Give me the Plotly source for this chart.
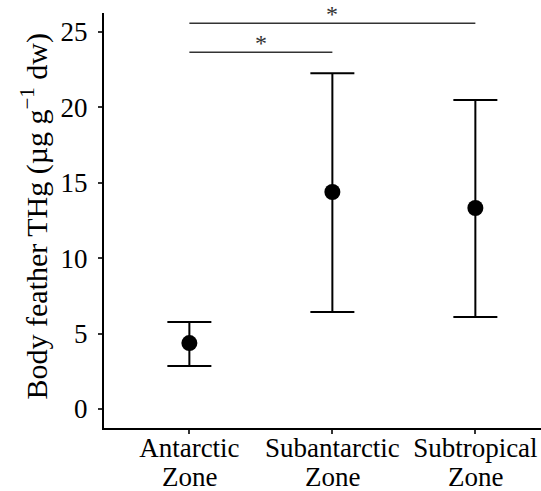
import plotly.graph_objects as go

zone_names = ["Antarctic", "Subantarctic", "Subtropical"]
zone_suffix = ["Zone", "Zone", "Zone"]
means = [4.37, 14.38, 13.32]
upper = [5.77, 22.25, 20.48]
lower = [2.85, 6.43, 6.10]

sig_pairs = [(0, 1), (0, 2)]
sig_y = [23.64, 25.56]
sig_labels = ["*", "*"]

y_ticks = [0, 5, 10, 15, 20, 25]

FONT = "Liberation Serif"
x_pos = list(range(len(zone_names)))

fig = go.Figure()

fig.add_trace(go.Scatter(
    x=x_pos, y=means, mode="markers",
    marker=dict(size=16, color="black"),
    error_y=dict(type="data", symmetric=False,
                 array=[u - m for u, m in zip(upper, means)],
                 arrayminus=[m - l for m, l in zip(means, lower)],
                 thickness=2, width=22, color="black"),
    showlegend=False, cliponaxis=False,
))

for (a, b), yv, lab in zip(sig_pairs, sig_y, sig_labels):
    fig.add_trace(go.Scatter(
        x=[a, b], y=[yv, yv], mode="lines",
        line=dict(color="#333333", width=1.5),
        showlegend=False, hoverinfo="skip", cliponaxis=False,
    ))
    fig.add_annotation(x=(a + b) / 2, y=yv, text=lab, showarrow=False,
                       yanchor="bottom", yshift=-6,
                       font=dict(family=FONT, size=24, color="#333333"))

# second line of x tick labels
for xp, s in zip(x_pos, zone_suffix):
    fig.add_annotation(x=xp, y=-0.119, xref="x", yref="paper", text=s,
                       showarrow=False, xanchor="center", yanchor="middle",
                       font=dict(family=FONT, size=27, color="black"))

fig.add_annotation(
    x=-0.158, y=0.512, xref="paper", yref="paper",
    text="Body feather THg (µg g<sup>−1</sup> dw)", textangle=-90,
    showarrow=False, xanchor="center", yanchor="middle",
    font=dict(family=FONT, size=30, color="black"),
)

fig.update_xaxes(
    range=[-0.597, 2.459], tickmode="array", tickvals=x_pos, ticktext=zone_names,
    showline=True, linecolor="black", linewidth=2, ticks="outside", ticklen=4,
    tickwidth=1.5, tickcolor="#333333", showgrid=False, zeroline=False,
    tickfont=dict(family=FONT, size=27, color="black"),
    ticklabelstandoff=-9,
)
fig.update_yaxes(
    range=[-1.26, 26.24], tickmode="array", tickvals=y_ticks,
    ticktext=[str(t) for t in y_ticks],
    showline=True, linecolor="black", linewidth=2, ticks="outside", ticklen=4,
    tickwidth=1.5, tickcolor="#333333", showgrid=False, zeroline=False,
    tickfont=dict(family=FONT, size=27, color="black"),
    ticklabelstandoff=5,
)

fig.update_layout(
    width=541, height=491,
    margin=dict(l=104, r=0, t=13, b=63, autoexpand=False),
    plot_bgcolor="white", paper_bgcolor="white",
    font=dict(family=FONT),
)

fig.write_html("out.html")
